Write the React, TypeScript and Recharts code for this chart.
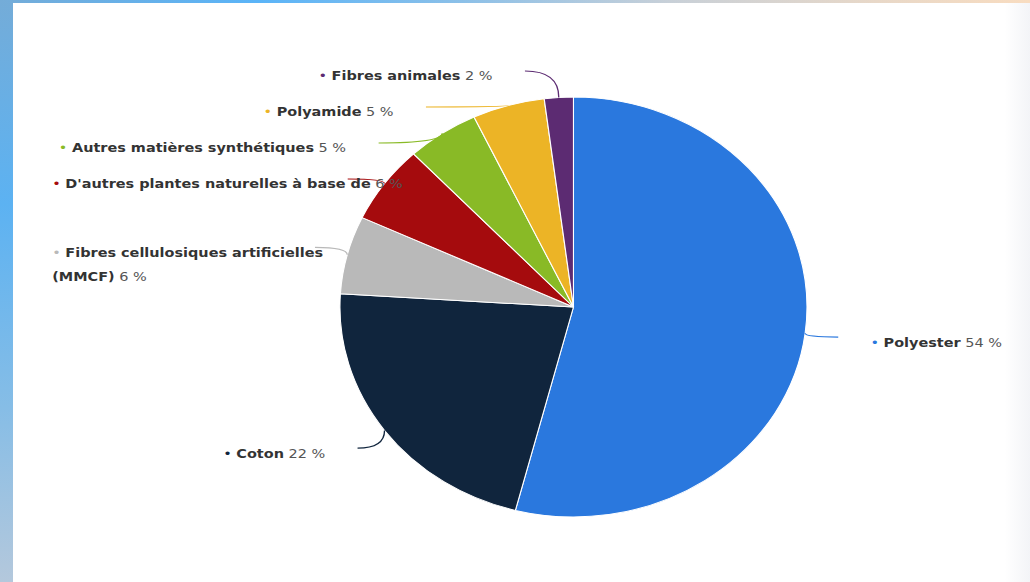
import React from 'react';
import { PieChart, Pie, Cell } from 'recharts';

// ---- data ----
const categories = [
  'Polyester',
  'Coton',
  'Fibres cellulosiques artificielles (MMCF)',
  "D'autres plantes naturelles à base de",
  'Autres matières synthétiques',
  'Polyamide',
  'Fibres animales',
];
const shares = [54, 22, 6, 6, 5, 5, 2];
const sliceColors = ['#2a78de', '#10253d', '#b9b9b9', '#a50b0d', '#89ba26', '#ecb426', '#5c2b72'];

const data = categories.map((name, i) => ({ name, value: shares[i] }));

// ---- geometry / style ----
const SX = 1.112;
const W = Math.round(1030 / SX);
const H = 582;
const CX = 515.7;
const CY = 307;
const R = 210;
const DIST = 30;
const SPACING = 36;
const TOP_GAP = 26;
const GAP = 29;
const MINX = 47;
const MAXW = 322;
const LINE_H = 24;
const FONT = '"DejaVu Sans", sans-serif';
const FS = 13;
const TEXT = '#333333';
const VALUE = '#555555';

let ctx: CanvasRenderingContext2D | null = null;
function measure(text: string, bold: boolean, size = FS) {
  if (!ctx) ctx = document.createElement('canvas').getContext('2d');
  if (!ctx) return text.length * size * 0.6;
  ctx.font = `${bold ? 'bold ' : ''}${size}px ${FONT}`;
  return ctx.measureText(text).width;
}

type Line = { bullet: boolean; name: string; value: string };
type Pos = {
  right: boolean; ex: number; ey: number; ax: number; ay: number;
  lines: Line[]; width: number;
};

function lineWidth(l: Line) {
  let w = 0;
  if (l.bullet) w += measure('• ', false, FS);
  if (l.name) w += measure(l.name, true);
  if (l.value) w += measure((l.name ? ' ' : '') + l.value, false);
  return w;
}

function wrap(name: string, value: string): Line[] {
  const full: Line = { bullet: true, name, value };
  if (lineWidth(full) <= MAXW) return [full];
  const words = name.split(' ');
  let first = '';
  let k = 0;
  for (; k < words.length; k++) {
    const cand = first ? first + ' ' + words[k] : words[k];
    if (lineWidth({ bullet: true, name: cand, value: '' }) > MAXW - 40 && first) break;
    first = cand;
  }
  const rest = words.slice(k).join(' ');
  return [
    { bullet: true, name: first, value: '' },
    { bullet: false, name: rest, value },
  ];
}

let cache: Pos[] | null = null;
function layout(cx: number, cy: number, r: number): Pos[] {
  if (cache) return cache;
  const total = shares.reduce((a, b) => a + b, 0);
  let acc = 0;
  const rl = r + DIST;
  const items = shares.map((v, i) => {
    const mid = ((acc + v / 2) / total) * 2 * Math.PI;
    acc += v;
    const right = Math.sin(mid) >= 0;
    const lines = wrap(categories[i], `${v} %`);
    return {
      i,
      right,
      ex: cx + r * Math.sin(mid),
      ey: cy - r * Math.cos(mid),
      ay: cy - rl * Math.cos(mid),
      ax: 0,
      lines,
      width: Math.max(...lines.map(lineWidth)),
    };
  });
  for (const side of [true, false]) {
    const group = items.filter((d) => d.right === side).sort((a, b) => a.ay - b.ay);
    let minY = cy - r - TOP_GAP;
    for (const d of group) {
      d.ay = Math.max(d.ay, minY);
      minY = d.ay + SPACING * d.lines.length;
    }
  }
  for (const d of items) {
    const dy = d.ay - cy;
    const dx = Math.sqrt(Math.max(0, rl * rl - dy * dy));
    d.ax = d.right ? cx + dx : cx - dx;
  }
  const out: Pos[] = [];
  items.forEach((d) => (out[d.i] = d));
  cache = out;
  return out;
}

function renderLabel(props: any) {
  const { cx, cy, outerRadius, index } = props;
  const p = layout(cx, cy, outerRadius)[index];
  const color = sliceColors[index];
  const path = `M${p.ax},${p.ay} Q${p.ex},${p.ay} ${p.ex},${p.ey}`;
  const xStart = p.right ? p.ax + GAP : Math.max(MINX, p.ax - GAP - p.width);
  return (
    <g key={`lbl-${index}`}>
      <path d={path} stroke={color} strokeWidth={1.2} fill="none" />
      {p.lines.map((l, li) => (
        <text
          key={li}
          x={xStart}
          y={p.ay + 9.5 + li * LINE_H}
          textAnchor="start"
          fontFamily={FONT}
          fontSize={FS}
          fill={TEXT}
        >
          {l.bullet && <tspan fill={color}>{'• '}</tspan>}
          {l.name && <tspan fontWeight="bold">{l.name}</tspan>}
          {l.value && <tspan fill={VALUE}>{(l.name ? ' ' : '') + l.value}</tspan>}
        </text>
      ))}
    </g>
  );
}

export default function App() {
  return (
    <div
      style={{
        position: 'fixed',
        left: 0,
        top: 0,
        width: 1030,
        height: 582,
        overflow: 'hidden',
        background: 'linear-gradient(180deg, #74acd8 0%, #5cb2f2 35%, #86bde6 70%, #b4c8dc 100%)',
      }}
    >
      <div
        style={{
          position: 'absolute',
          left: 0,
          top: 0,
          width: 1030,
          height: 3,
          background:
            'linear-gradient(90deg, #74acd8 0%, #5ab4f8 25%, #8cc0e8 45%, #c8d0d8 65%, #e8d8c8 85%, #f8dcc0 100%)',
        }}
      />
      <div
        style={{
          position: 'absolute',
          left: 13,
          top: 3,
          width: 1017,
          height: 579,
          background: 'linear-gradient(90deg, #ffffff 0%, #ffffff 97.5%, #f3f4f7 100%)',
        }}
      />
      <div
        style={{
          position: 'absolute',
          left: 0,
          top: 0,
          width: W,
          height: H,
          transform: `scaleX(${SX})`,
          transformOrigin: '0 0',
        }}
      >
        <PieChart width={W} height={H} margin={{ top: 0, right: 0, bottom: 0, left: 0 }}>
          <Pie
            data={data}
            dataKey="value"
            nameKey="name"
            cx={CX}
            cy={CY}
            innerRadius={0}
            outerRadius={R}
            startAngle={90}
            endAngle={-270}
            stroke="#ffffff"
            strokeWidth={1}
            isAnimationActive={false}
            label={renderLabel}
            labelLine={false}
          >
            {data.map((d, i) => (
              <Cell key={d.name} fill={sliceColors[i]} />
            ))}
          </Pie>
        </PieChart>
      </div>
    </div>
  );
}
